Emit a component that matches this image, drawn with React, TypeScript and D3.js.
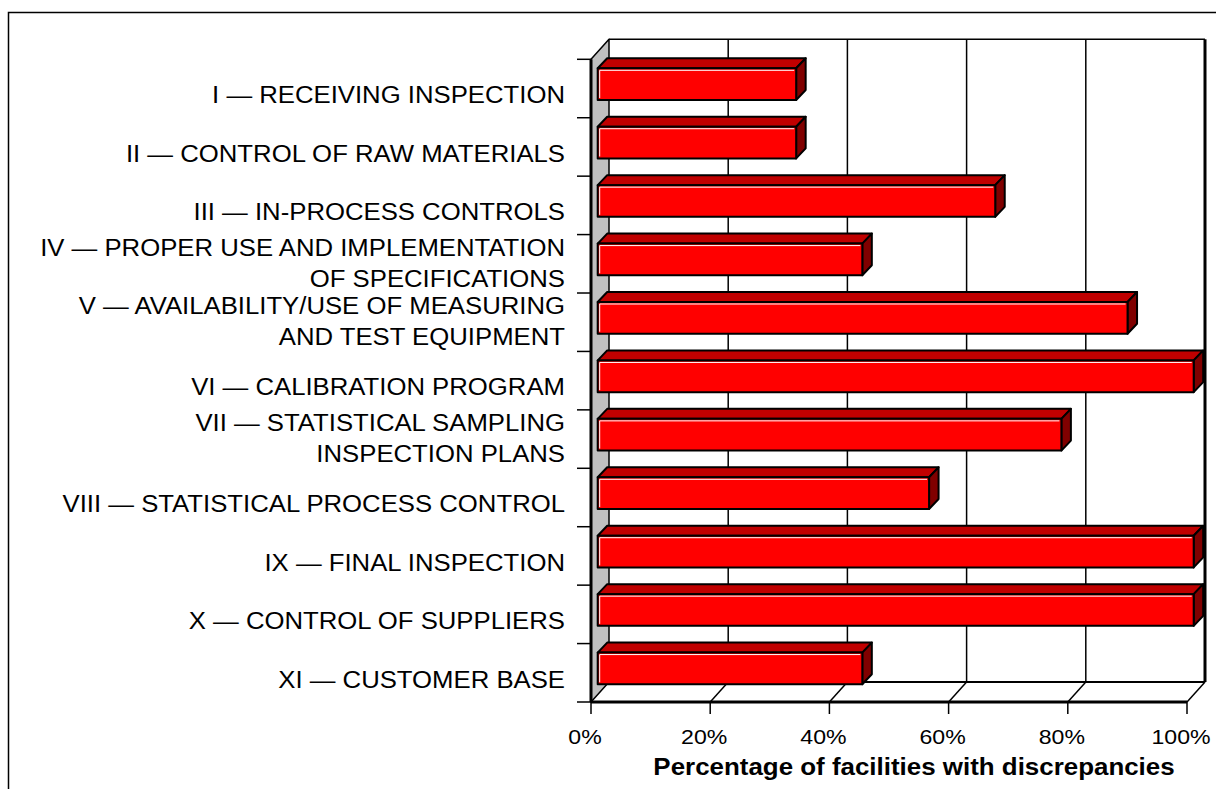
import React from "react";
import * as d3 from "d3";

const categories: string[][] = [
  ["I — RECEIVING INSPECTION"],
  ["II — CONTROL OF RAW MATERIALS"],
  ["III — IN-PROCESS CONTROLS"],
  ["IV — PROPER USE AND IMPLEMENTATION", "OF SPECIFICATIONS"],
  ["V — AVAILABILITY/USE OF MEASURING", "AND TEST EQUIPMENT"],
  ["VI — CALIBRATION PROGRAM"],
  ["VII — STATISTICAL SAMPLING", "INSPECTION PLANS"],
  ["VIII — STATISTICAL PROCESS CONTROL"],
  ["IX — FINAL INSPECTION"],
  ["X — CONTROL OF SUPPLIERS"],
  ["XI — CUSTOMER BASE"],
];

// Share of facilities (%) with discrepancies in each area
const values: number[] = [33.3, 33.3, 66.7, 44.4, 88.9, 100, 77.8, 55.6, 100, 100, 44.4];

const xTicks: number[] = [0, 20, 40, 60, 80, 100];
const axisTitle = "Percentage of facilities with discrepancies";

const W = 1216;
const H = 789;

// Oblique 3D frame
const front = { left: 591, right: 1187, top: 59.3, bottom: 702 };
const depth = { dx: 18, dy: -20 };
const barDepth = { dx: 9.5, dy: -10 };
const barShift = 6.7;

const FONT = "'Liberation Sans', Arial, Helvetica, sans-serif";

export default function App() {
  const x = d3.scaleLinear().domain([0, 100]).range([front.left, front.right]);
  const y = d3
    .scaleBand<number>()
    .domain(d3.range(categories.length))
    .range([front.top, front.bottom])
    .paddingInner(0)
    .paddingOuter(0);
  const band = y.bandwidth();

  const backTop = front.top + depth.dy;
  const backBottom = front.bottom + depth.dy;
  const bx = (v: number) => x(v) + depth.dx;

  const line = d3.line<[number, number]>();

  return (
    <svg
      width={W}
      height={H}
      style={{ position: "absolute", left: 0, top: 0, background: "#fff" }}
    >
      {/* outer frame */}
      <rect x={8.5} y={12.5} width={W + 20} height={H + 20} fill="none" stroke="#000" strokeWidth={1.5} />

      {/* back wall */}
      <rect
        x={bx(0)}
        y={backTop}
        width={bx(100) - bx(0)}
        height={backBottom - backTop}
        fill="#fff"
      />
      {/* floor */}
      <path
        d={line([
          [x(0), front.bottom],
          [x(100), front.bottom],
          [bx(100), backBottom],
          [bx(0), backBottom],
        ])! + "Z"}
        fill="#fff"
      />
      {/* gridlines on the back wall and floor */}
      {xTicks.map((t) => (
        <g key={"g" + t}>
          {t > 0 && t < 100 && (
            <line x1={bx(t)} x2={bx(t)} y1={backTop} y2={backBottom} stroke="#000" strokeWidth={1.5} />
          )}
          {t > 0 && (
            <line x1={bx(t)} y1={backBottom} x2={x(t)} y2={front.bottom} stroke="#000" strokeWidth={1.5} />
          )}
        </g>
      ))}
      {/* back wall borders */}
      <line x1={bx(0)} x2={bx(100)} y1={backTop} y2={backTop} stroke="#000" strokeWidth={1.5} />
      <line x1={bx(100)} x2={bx(100)} y1={backTop} y2={backBottom} stroke="#000" strokeWidth={3} />
      <line x1={bx(0)} x2={bx(100)} y1={backBottom} y2={backBottom} stroke="#000" strokeWidth={2} />

      {/* left side wall */}
      <path
        d={line([
          [x(0), front.top],
          [bx(0), backTop],
          [bx(0), backBottom],
          [x(0), front.bottom],
        ])! + "Z"}
        fill="#C0C0C0"
        stroke="#000"
        strokeWidth={1.5}
        strokeLinejoin="round"
      />

      {/* bars */}
      {values.map((v, i) => {
        const t = y(i)! + 9;
        const b = t + 31.7;
        const x0 = x(0) + barShift;
        const x1 = x(v) + barShift;
        const { dx, dy } = barDepth;
        const top = line([
          [x0, t],
          [x0 + dx, t + dy],
          [x1 + dx, t + dy],
          [x1, t],
        ])! + "Z";
        const side = line([
          [x1, t],
          [x1 + dx, t + dy],
          [x1 + dx, b + dy],
          [x1, b],
        ])! + "Z";
        return (
          <g key={"bar" + i} strokeLinejoin="round">
            <path d={top} fill="#C00000" stroke="#000" strokeWidth={2} />
            <path d={side} fill="#800000" stroke="#000" strokeWidth={2} />
            <rect x={x0} y={t} width={x1 - x0} height={b - t} fill="#FF0000" stroke="#000" strokeWidth={2} />
            <path
              d={line([
                [x0 + 2, b - 2],
                [x0 + 2, t + 2],
                [x1 - 2, t + 2],
              ])!}
              fill="none"
              stroke="#fff"
              strokeWidth={1}
            />
          </g>
        );
      })}

      {/* front-left axis line */}
      <line x1={x(0)} x2={x(0)} y1={front.top} y2={front.bottom} stroke="#000" strokeWidth={3} />
      {/* front floor edge */}
      <line x1={x(0)} x2={x(100)} y1={front.bottom} y2={front.bottom} stroke="#000" strokeWidth={3} />

      {/* category ticks */}
      {d3.range(categories.length + 1).map((i) => {
        const yy = front.top + i * band;
        return <line key={"ct" + i} x1={577} x2={x(0)} y1={yy} y2={yy} stroke="#000" strokeWidth={1.5} />;
      })}

      {/* category labels */}
      {categories.map((lines, i) => {
        const c = y(i)! + band / 2 + (lines.length === 1 ? 6.5 : -1);
        const lh = 31;
        const first = c - ((lines.length - 1) * lh) / 2;
        return (
          <g key={"lab" + i} transform={`translate(565,0) scale(1.05,1)`}>
            <text textAnchor="end" fontFamily={FONT} fontSize={24.5} fill="#000">
              {lines.map((s, k) => (
                <tspan key={k} x={0} y={first + k * lh} dy="0.34em">
                  {s}
                </tspan>
              ))}
            </text>
          </g>
        );
      })}

      {/* value axis ticks and labels */}
      {xTicks.map((t) => (
        <g key={"xt" + t}>
          <line x1={x(t)} x2={x(t)} y1={front.bottom} y2={front.bottom + 12} stroke="#000" strokeWidth={1.5} />
          <g transform={`translate(${x(t) - 6},744) scale(1.1,1)`}>
            <text textAnchor="middle" fontFamily={FONT} fontSize={21} fill="#000">
              {d3.format(".0f")(t) + "%"}
            </text>
          </g>
        </g>
      ))}

      <g transform="translate(914,775) scale(1.08,1)">
        <text textAnchor="middle" fontFamily={FONT} fontSize={24} fontWeight="bold" fill="#000">
          {axisTitle}
        </text>
      </g>
    </svg>
  );
}
